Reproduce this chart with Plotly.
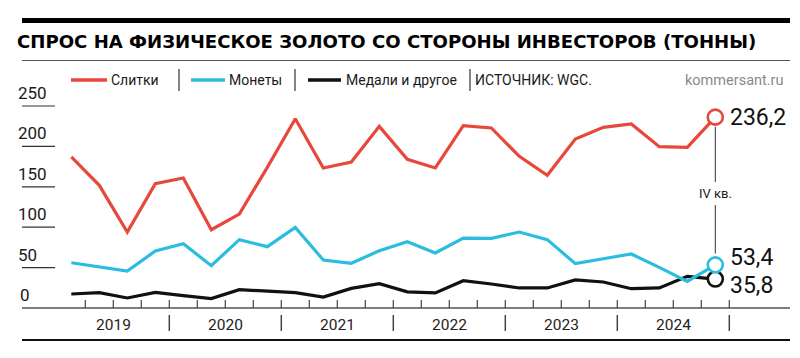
import plotly.graph_objects as go

# ---------------- data ----------------
years = ["2019", "2020", "2021", "2022", "2023", "2024"]
quarters = [f"{y} Q{q}" for y in years for q in range(1, 5)]

bars = [186.9, 151.8, 94.0, 153.9, 160.9, 96.9, 116.3, 174.0,
        234.3, 173.3, 180.7, 224.8, 184.0, 173.3, 225.7, 222.8,
        187.7, 164.2, 209.2, 223.6, 227.7, 199.7, 198.9, 236.2]
coins = [56.0, 50.7, 45.8, 70.5, 79.6, 52.4, 84.6, 75.9,
         99.8, 59.4, 55.3, 70.9, 82.1, 68.1, 86.6, 86.2,
         94.0, 84.6, 54.9, 61.0, 66.8, 50.3, 33.0, 53.4]
medals = [17.3, 19.0, 12.4, 19.4, 15.3, 11.6, 22.7, 20.6,
          19.0, 13.6, 24.3, 30.1, 20.0, 18.6, 33.8, 29.7,
          24.8, 24.8, 34.7, 32.2, 23.9, 24.8, 39.2, 35.8]

series_names = ["Слитки", "Монеты", "Медали и другое"]
colors = ["#e8473c", "#2bbde0", "#111111"]
yticks = [0, 50, 100, 150, 200, 250]
title = "СПРОС НА ФИЗИЧЕСКОЕ ЗОЛОТО СО СТОРОНЫ ИНВЕСТОРОВ (ТОННЫ)"
source = "ИСТОЧНИК: WGC."
brand = "kommersant.ru"
last_label = "IV кв."

W, H = 800, 358
NARROW = "Roboto"
TXT = "#1a1a1a"
LPAD = 7  # compensation for annotation left padding

x = list(range(len(quarters)))

# axis mapping: index i -> pixel 63.3 + 28 i ; value v -> pixel 300 - 0.808 v
X0P, DXP = 63.3, 28.0
Y0P, DYP = 300.0, 0.808
xr = [(0 - X0P) / DXP, (W - X0P) / DXP]
yr = [(Y0P - H) / DYP, (Y0P - 0) / DYP]


def px(p):
    return p / W


def py(p):
    return 1 - p / H


fig = go.Figure()

data = [bars, coins, medals]
for name, vals, col in reversed(list(zip(series_names, data, colors))):
    fig.add_trace(go.Scatter(x=x, y=vals, mode="lines", name=name,
                             line=dict(color=col, width=3.2), showlegend=False,
                             hoverinfo="skip"))
for name, vals, col in reversed(list(zip(series_names, data, colors))):
    fig.add_trace(go.Scatter(x=[x[-1]], y=[vals[-1]], mode="markers",
                             marker=dict(size=15, color="white",
                                         line=dict(color=col, width=2.6)),
                             showlegend=False, hoverinfo="skip"))

shapes = []
ann = []

# top thick bar, title rule, bottom rule
shapes.append(dict(type="rect", xref="paper", yref="paper", x0=px(14), x1=px(782),
                   y0=py(15), y1=py(10), fillcolor="#000", line_width=0))
shapes.append(dict(type="line", xref="paper", yref="paper", x0=px(14), x1=px(782),
                   y0=py(52.5), y1=py(52.5), line=dict(color="#555", width=1.2)))
shapes.append(dict(type="line", xref="paper", yref="paper", x0=px(14), x1=px(782),
                   y0=py(332), y1=py(332), line=dict(color="#111", width=2.2)))
# baseline
shapes.append(dict(type="line", xref="paper", yref="y", x0=px(14), x1=px(782),
                   y0=0, y1=0, line=dict(color="#555", width=1.3)))

ann.append(dict(text=f"<b>{title}</b>", xref="paper", yref="paper", x=px(7), y=py(34),
                xanchor="left", yanchor="middle", showarrow=False,
                font=dict(family="DejaVu Sans", size=18.1, color="#000")))

# y tick labels with short rules
for t in yticks:
    if t > 0:
        shapes.append(dict(type="line", xref="paper", yref="y", x0=px(14), x1=px(47),
                           y0=t, y1=t, line=dict(color="#333", width=1.2)))
    ann.append(dict(text=str(t), xref="paper", yref="y",
                    x=px((15 if t else 17) - LPAD), y=t,
                    xanchor="left", yanchor="bottom", yshift=1, showarrow=False,
                    font=dict(family=NARROW, size=17, color=TXT)))

# quarter ticks and year separators
for i in range(1, len(quarters) + 1):
    xb = i - 0.5
    shapes.append(dict(type="line", xref="x", yref="paper", x0=xb, x1=xb,
                       y0=py(292), y1=py(300), line=dict(color="#444", width=1.2)))
    if i % 4 == 0:
        shapes.append(dict(type="line", xref="x", yref="paper", x0=xb, x1=xb,
                           y0=py(307), y1=py(323), line=dict(color="#444", width=1.5)))
for k, yname in enumerate(years):
    ann.append(dict(text=yname, xref="x", yref="paper", x=4 * k + 1.5, y=py(317),
                    xanchor="center", yanchor="middle", showarrow=False,
                    font=dict(family=NARROW, size=15.5, color="#222")))

# legend (manual)
leg = [(63, 99, 108), (183, 217, 226), (300, 333, 343)]
for (a, b, tx), name, col in zip(leg, series_names, colors):
    shapes.append(dict(type="line", xref="paper", yref="paper", x0=px(a), x1=px(b),
                       y0=py(72), y1=py(72), line=dict(color=col, width=3.5)))
    ann.append(dict(text=name, xref="paper", yref="paper", x=px(tx - LPAD), y=py(72),
                    xanchor="left", yanchor="middle", showarrow=False,
                    font=dict(family=NARROW, size=14, color=TXT)))
for sx in [171, 287, 462]:
    shapes.append(dict(type="line", xref="paper", yref="paper", x0=px(sx), x1=px(sx),
                       y0=py(61), y1=py(83), line=dict(color="#333", width=1.2)))
ann.append(dict(text=source, xref="paper", yref="paper", x=px(472 - LPAD), y=py(72),
                xanchor="left", yanchor="middle", showarrow=False,
                font=dict(family=NARROW, size=14, color=TXT)))
ann.append(dict(text=brand, xref="paper", yref="paper", x=px(778), y=py(72),
                xanchor="right", yanchor="middle", showarrow=False,
                font=dict(family=NARROW, size=14.5, color="#8a8a8a")))

# last-value labels
xl = x[-1]
for vals, yc in zip(data, [bars[-1], coins[-1] + 9, medals[-1] - 8]):
    ann.append(dict(text=f"{vals[-1]:.1f}".replace(".", ","), xref="x", yref="y",
                    x=xl, y=yc, xshift=13, xanchor="left", yanchor="middle",
                    showarrow=False,
                    font=dict(family=NARROW, size=23, color="#111")))

# IV quarter connector
shapes.append(dict(type="line", xref="x", yref="y", x0=xl, x1=xl,
                   y0=bars[-1] - 12, y1=(Y0P - 174) / DYP, line=dict(color="#333", width=1)))
shapes.append(dict(type="line", xref="x", yref="y", x0=xl, x1=xl,
                   y0=(Y0P - 197) / DYP, y1=coins[-1] + 14, line=dict(color="#333", width=1)))
ann.append(dict(text=last_label, xref="x", yref="paper", x=xl, y=py(186),
                xanchor="center", yanchor="middle", showarrow=False,
                font=dict(family=NARROW, size=13, color=TXT)))

fig.update_layout(
    width=W, height=H, margin=dict(l=0, r=0, t=0, b=0),
    paper_bgcolor="white", plot_bgcolor="white",
    xaxis=dict(range=xr, visible=False, fixedrange=True),
    yaxis=dict(range=yr, visible=False, fixedrange=True),
    shapes=shapes, annotations=ann, showlegend=False,
)
fig.write_html("out.html")
